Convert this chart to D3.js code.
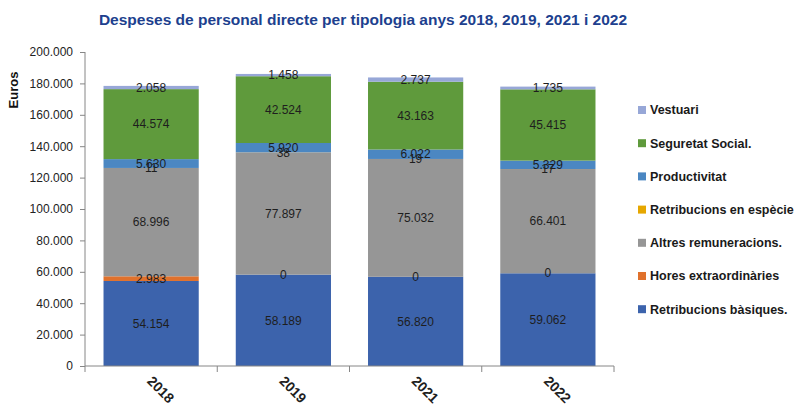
<!DOCTYPE html>
<html lang="ca">
<head>
<meta charset="UTF-8">
<title>Despeses de personal</title>
<script src="https://cdn.jsdelivr.net/npm/d3@7"></script>
<style>
  body { margin: 0; background: #fff; }
  text { font-family: "Liberation Sans", Arial, sans-serif; }
</style>
</head>
<body>
<div id="chart"></div>
<script>
// data
const years = ["2018", "2019", "2021", "2022"];
const seriesNames = ["Retribucions bàsiques.", "Hores extraordinàries", "Altres remuneracions.",
  "Retribucions en espècie", "Productivitat", "Seguretat Social.", "Vestuari"];
const seriesColors = ["#3c63ac", "#e0712c", "#969696", "#e6a700", "#4b87c2", "#5f9a3c", "#97a7d7"];
const basiques = [54154, 58189, 56820, 59062];
const hores = [2983, 0, 0, 0];
const altres = [68996, 77897, 75032, 66401];
const especie = [11, 38, 19, 17];
const productivitat = [5630, 5920, 6022, 5329];
const seguretat = [44574, 42524, 43163, 45415];
const vestuari = [2058, 1458, 2737, 1735];
const yTicks = [0, 20000, 40000, 60000, 80000, 100000, 120000, 140000, 160000, 180000, 200000];

const seriesValues = [basiques, hores, altres, especie, productivitat, seguretat, vestuari];

const W = 799, H = 411;
const margin = {top: 52, right: 185, bottom: 45, left: 85};
const width = W - margin.left - margin.right,
      height = H - margin.top - margin.bottom;

const fmt = d3.formatLocale({decimal: ",", thousands: ".", grouping: [3], currency: ["", "€"]}).format(",d");

const svgRoot = d3.select("#chart").append("svg")
  .attr("width", W).attr("height", H);

// title
svgRoot.append("text")
  .attr("x", 363).attr("y", 25)
  .attr("text-anchor", "middle")
  .attr("font-size", "15.5px")
  .attr("font-weight", "bold")
  .attr("fill", "#203f8e")
  .style("font-family", "'Liberation Sans Narrow', 'Liberation Sans', sans-serif")
  .text("Despeses de personal directe per tipologia anys 2018, 2019, 2021 i 2022");

const svg = svgRoot.append("g")
  .attr("transform", `translate(${margin.left},${margin.top})`);

const rows = years.map((y, i) => {
  const r = {year: y};
  seriesNames.forEach((s, k) => r[s] = seriesValues[k][i]);
  return r;
});
const stacked = d3.stack().keys(seriesNames)(rows);

const x = d3.scaleBand().domain(years).range([0, width]).paddingInner(0.28).paddingOuter(0.14);
const xEdge = d3.scaleBand().domain(years).range([0, width]);
const y = d3.scaleLinear().domain([0, 200000]).range([height, 0]);
const color = d3.scaleOrdinal().domain(seriesNames).range(seriesColors);

// bars
const layer = svg.selectAll("g.layer")
  .data(stacked)
  .join("g")
    .attr("class", "layer")
    .attr("fill", d => color(d.key));

layer.selectAll("rect")
  .data(d => d)
  .join("rect")
    .attr("x", d => x(d.data.year))
    .attr("y", d => y(d[1]))
    .attr("width", x.bandwidth())
    .attr("height", d => y(d[0]) - y(d[1]));

// value labels
stacked.forEach(s => {
  svg.selectAll(null)
    .data(s)
    .join("text")
      .attr("x", d => x(d.data.year) + x.bandwidth() / 2)
      .attr("y", d => y((d[0] + d[1]) / 2))
      .attr("dy", "0.35em")
      .attr("text-anchor", "middle")
      .attr("font-size", "12px")
      .attr("fill", "#1e1e1e")
      .text(d => fmt(d[1] - d[0]));
});

// y axis
const yAxis = svg.append("g")
  .call(d3.axisLeft(y).tickValues(yTicks).tickSize(5).tickPadding(7).tickFormat(v => fmt(v)));
yAxis.selectAll("path, line").attr("stroke", "#868686");
yAxis.selectAll("text").attr("font-size", "12px").attr("fill", "#222");
yAxis.select(".domain").attr("d", `M0,${height}V0`);

// x axis with ticks at band edges
const xAxis = svg.append("g").attr("transform", `translate(0,${height})`);
xAxis.append("line").attr("x1", 0).attr("x2", width).attr("stroke", "#868686");
xAxis.selectAll("line.tk")
  .data(years.concat(["end"]))
  .join("line")
    .attr("class", "tk")
    .attr("x1", (d, i) => i < years.length ? xEdge(d) : width)
    .attr("x2", (d, i) => i < years.length ? xEdge(d) : width)
    .attr("y2", 6)
    .attr("stroke", "#868686");
xAxis.selectAll("text")
  .data(years)
  .join("text")
    .attr("transform", d => `translate(${x(d) + x.bandwidth() / 2 - 5},${16}) rotate(45)`)
    .attr("font-size", "14px")
    .attr("font-weight", "bold")
    .attr("fill", "#1e1e1e")
    .text(d => d);

// y label
svgRoot.append("text")
  .attr("transform", "translate(18,90) rotate(-90)")
  .attr("text-anchor", "middle")
  .attr("font-size", "13px")
  .attr("font-weight", "bold")
  .attr("fill", "#111")
  .text("Euros");

// legend (top item is last series)
const legend = svgRoot.append("g").attr("transform", "translate(638,110)");
const legendItems = seriesNames.slice().reverse();
const li = legend.selectAll("g")
  .data(legendItems)
  .join("g")
    .attr("transform", (d, i) => `translate(0,${i * 33.2})`);
li.append("rect")
  .attr("x", 0).attr("y", -4).attr("width", 8).attr("height", 8)
  .attr("fill", d => color(d));
li.append("text")
  .attr("x", 12).attr("dy", "0.35em")
  .attr("font-size", "12.5px")
  .attr("font-weight", "bold")
  .attr("fill", "#1a1a1a")
  .text(d => d);
</script>
</body>
</html>
